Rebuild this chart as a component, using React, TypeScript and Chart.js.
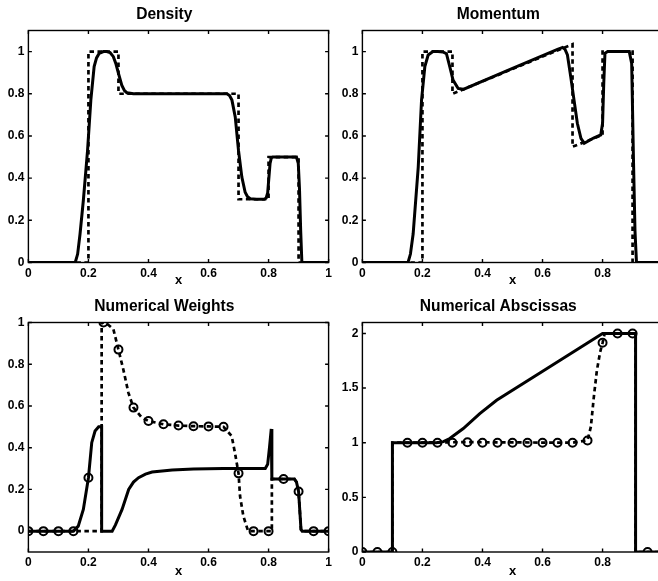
import React, { useEffect, useRef } from "react";
import { Chart, registerables } from "chart.js";

Chart.register(...registerables);

// ---------- Tick labels ----------
const xTicks = [0, 0.2, 0.4, 0.6, 0.8, 1];
const unitYTicks = [0, 0.2, 0.4, 0.6, 0.8, 1];
const abscYTicks = [0, 0.5, 1, 1.5, 2];

// ---------- Density ----------
const densityNumX = [0, 0.156, 0.164, 0.172, 0.183, 0.197, 0.208, 0.219, 0.227, 0.236, 0.25, 0.261, 0.272, 0.283, 0.292, 0.3, 0.311, 0.32, 0.328, 0.35, 0.5, 0.661, 0.67, 0.678, 0.689, 0.7, 0.711, 0.722, 0.73, 0.739, 0.76, 0.785, 0.792, 0.797, 0.801, 0.805, 0.809, 0.814, 0.85, 0.893, 0.899, 0.903, 0.907, 0.911, 1];
const densityNumY = [0, 0, 0.04, 0.135, 0.294, 0.53, 0.77, 0.929, 0.97, 0.992, 1.0, 1.0, 0.995, 0.976, 0.94, 0.897, 0.841, 0.815, 0.805, 0.8, 0.8, 0.8, 0.792, 0.77, 0.69, 0.53, 0.405, 0.333, 0.312, 0.302, 0.3, 0.3, 0.306, 0.33, 0.4, 0.47, 0.495, 0.5, 0.5, 0.5, 0.47, 0.35, 0.15, 0, 0];
const densityExactX = [0, 0.2, 0.2, 0.3, 0.3, 0.7, 0.7, 0.8, 0.8, 0.9, 0.9, 1];
const densityExactY = [0, 0, 1, 1, 0.8, 0.8, 0.3, 0.3, 0.5, 0.5, 0, 0];

// ---------- Momentum ----------
const momentumNumX = [0, 0.152, 0.16, 0.169, 0.186, 0.197, 0.208, 0.219, 0.235, 0.252, 0.268, 0.28, 0.291, 0.302, 0.319, 0.336, 0.5, 0.65, 0.667, 0.675, 0.683, 0.694, 0.705, 0.716, 0.728, 0.739, 0.77, 0.794, 0.8, 0.804, 0.808, 0.817, 0.85, 0.889, 0.897, 0.903, 0.908, 0.913, 1];
const momentumNumY = [0, 0, 0.04, 0.135, 0.452, 0.77, 0.929, 0.984, 1.0, 1.0, 0.998, 0.99, 0.929, 0.865, 0.825, 0.821, 0.92, 1.01, 1.02, 1.01, 0.984, 0.88, 0.77, 0.66, 0.589, 0.565, 0.59, 0.605, 0.66, 0.85, 0.992, 1.0, 1.0, 1.0, 0.944, 0.486, 0.15, 0, 0];
const momentumExactX = [0, 0.2, 0.2, 0.3, 0.3, 0.7, 0.7, 0.8, 0.8, 0.9, 0.9, 1];
const momentumExactY = [0, 0, 1, 1, 0.8, 1.035, 0.549, 0.605, 1, 1, 0, 0];

// ---------- Numerical weights ----------
const weightSolidX = [0, 0.15, 0.166, 0.183, 0.2, 0.211, 0.222, 0.234, 0.244, 0.244, 0.279, 0.29, 0.312, 0.334, 0.35, 0.367, 0.39, 0.412, 0.479, 0.55, 0.65, 0.789, 0.797, 0.803, 0.809, 0.811, 0.886, 0.893, 0.9, 0.904, 0.908, 0.912, 1];
const weightSolidY = [0, 0, 0.024, 0.104, 0.256, 0.424, 0.48, 0.5, 0.5, 0, 0, 0.03, 0.104, 0.2, 0.235, 0.256, 0.273, 0.283, 0.293, 0.298, 0.3, 0.3, 0.32, 0.4, 0.49, 0.25, 0.25, 0.235, 0.19, 0.1, 0.008, 0, 0];
const weightDashX = [0, 0.244, 0.244, 0.25, 0.265, 0.283, 0.3, 0.316, 0.333, 0.35, 0.378, 0.4, 0.45, 0.5, 0.55, 0.6, 0.65, 0.677, 0.688, 0.7, 0.705, 0.716, 0.732, 0.811, 0.811, 0.886, 0.893, 0.9, 0.904, 0.908, 0.912, 1];
const weightDashY = [0, 0, 1, 1, 0.99, 0.968, 0.87, 0.776, 0.664, 0.592, 0.544, 0.528, 0.512, 0.506, 0.503, 0.502, 0.5, 0.456, 0.376, 0.277, 0.168, 0.072, 0, 0, 0.25, 0.25, 0.235, 0.19, 0.1, 0.008, 0, 0];

// ---------- Numerical abscissas ----------
const abscSolidX = [0, 0.1, 0.1, 0.246, 0.27, 0.291, 0.336, 0.391, 0.447, 0.615, 0.8, 0.91, 0.91, 1];
const abscSolidY = [0, 0, 1, 1, 1.01, 1.038, 1.13, 1.267, 1.389, 1.68, 2, 2, 0, 0];
const abscDashX = [0, 0.1, 0.1, 0.35, 0.7, 0.75, 0.761, 0.771, 0.781, 0.792, 0.8, 0.807, 0.91, 0.91, 1];
const abscDashY = [0, 0, 1, 1.005, 1, 1.023, 1.145, 1.42, 1.66, 1.83, 1.914, 2, 2, 0, 0];

// ---------- Sampled markers ----------
const sampleX = [0, 0.05, 0.1, 0.15, 0.2, 0.25, 0.3, 0.35, 0.4, 0.45, 0.5, 0.55, 0.6, 0.65, 0.7, 0.75, 0.8, 0.85, 0.9, 0.95, 1];
const weightSampleY = [0, 0, 0, 0, 0.256, 1, 0.87, 0.592, 0.528, 0.512, 0.506, 0.503, 0.502, 0.5, 0.277, 0, 0, 0.25, 0.19, 0, 0];
const abscSampleY = [0, 0, 0, 1, 1, 1, 1, 1.005, 1, 1, 1, 1, 1, 1, 1, 1.02, 1.915, 2, 2, 0, 0];

const FONT = "'Liberation Sans', Arial, Helvetica, sans-serif";

const zip = (xs: number[], ys: number[]) => xs.map((x, i) => ({ x, y: ys[i] }));

const solid = (xs: number[], ys: number[]) => ({
  data: zip(xs, ys),
  showLine: true,
  borderColor: "#000",
  borderWidth: 3,
  pointRadius: 0,
  tension: 0,
  fill: false,
});
const dashed = (xs: number[], ys: number[]) => ({
  ...solid(xs, ys),
  borderDash: [4.5, 3.5],
  borderWidth: 2.7,
});
const markers = (xs: number[], ys: number[]) => ({
  data: zip(xs, ys),
  showLine: false,
  pointRadius: 4,
  pointBorderWidth: 2,
  pointBorderColor: "#000",
  pointBackgroundColor: "rgba(0,0,0,0)",
  pointStyle: "circle",
});

const boxPlugin = {
  id: "matlabBox",
  afterDatasetsDraw(chart: any) {
    const { ctx, chartArea: a, scales } = chart;
    ctx.save();
    ctx.strokeStyle = "#000";
    ctx.lineWidth = 1.4;
    ctx.strokeRect(a.left, a.top, a.right - a.left, a.bottom - a.top);
    const L = 3.5;
    ctx.beginPath();
    scales.x.ticks.forEach((t: any) => {
      const p = scales.x.getPixelForValue(t.value);
      ctx.moveTo(p, a.bottom);
      ctx.lineTo(p, a.bottom - L);
      ctx.moveTo(p, a.top);
      ctx.lineTo(p, a.top + L);
    });
    scales.y.ticks.forEach((t: any) => {
      const p = scales.y.getPixelForValue(t.value);
      ctx.moveTo(a.left, p);
      ctx.lineTo(a.left + L, p);
      ctx.moveTo(a.right, p);
      ctx.lineTo(a.right - L, p);
    });
    ctx.stroke();
    ctx.restore();
  },
};

type PanelProps = {
  left: number;
  top: number;
  height: number;
  xAxisH: number;
  title: string;
  yMin: number;
  yMax: number;
  yTicks: number[];
  datasets: any[];
};

function Panel({ left, top, height, xAxisH, title, yMin, yMax, yTicks, datasets }: PanelProps) {
  const ref = useRef<HTMLCanvasElement>(null);
  const width = 357;
  const yAxisW = 28.4;
  useEffect(() => {
    const tickFont = { family: FONT, size: 12, weight: "bold" as const };
    const chart = new Chart(ref.current as HTMLCanvasElement, {
      type: "scatter",
      data: { datasets },
      options: {
        responsive: false,
        animation: false,
        devicePixelRatio: 1,
        layout: { padding: { left: 0, right: yAxisW, top: 0, bottom: 0 } },
        plugins: {
          legend: { display: false },
          tooltip: { enabled: false },
          title: {
            display: true,
            text: title,
            color: "#000",
            font: { family: FONT, size: 15.6, weight: "bold", lineHeight: 1 },
            padding: { top: 6.5, bottom: 8.4 },
          },
        },
        scales: {
          x: {
            type: "linear",
            min: 0,
            max: 1,
            afterBuildTicks: (s: any) => {
              s.ticks = xTicks.map((v) => ({ value: v }));
            },
            afterFit: (s: any) => {
              s.height = xAxisH;
            },
            grid: { display: false, drawTicks: false },
            border: { display: false },
            ticks: {
              color: "#000",
              font: tickFont,
              padding: 3.5,
              maxRotation: 0,
              autoSkip: false,
              callback: (v: any) => String(v),
            },
            title: {
              display: true,
              text: "x",
              color: "#000",
              font: { family: FONT, size: 13, weight: "bold", lineHeight: 1 },
              padding: { top: 0, bottom: 3 },
            },
          },
          y: {
            type: "linear",
            min: yMin,
            max: yMax,
            afterBuildTicks: (s: any) => {
              s.ticks = yTicks.map((v) => ({ value: v }));
            },
            afterFit: (s: any) => {
              s.width = yAxisW;
            },
            grid: { display: false, drawTicks: false },
            border: { display: false },
            ticks: {
              color: "#000",
              font: tickFont,
              padding: 4,
              autoSkip: false,
              callback: (v: any) => String(v),
            },
          },
        },
      },
      plugins: [boxPlugin],
    } as any);
    return () => chart.destroy();
  }, []);
  return (
    <canvas
      ref={ref}
      width={width}
      height={height}
      style={{ position: "absolute", left, top, width, height }}
    />
  );
}

export default function App() {
  return (
    <div
      style={{
        position: "fixed",
        left: 0,
        top: 0,
        width: 658,
        height: 581,
        overflow: "hidden",
        background: "#fff",
      }}
    >
      <Panel
        left={0}
        top={0}
        height={290}
        xAxisH={27.5}
        title="Density"
        yMin={0}
        yMax={1.1}
        yTicks={unitYTicks}
        datasets={[solid(densityNumX, densityNumY), dashed(densityExactX, densityExactY)]}
      />
      <Panel
        left={334}
        top={0}
        height={290}
        xAxisH={27.5}
        title="Momentum"
        yMin={0}
        yMax={1.1}
        yTicks={unitYTicks}
        datasets={[solid(momentumNumX, momentumNumY), dashed(momentumExactX, momentumExactY)]}
      />
      <Panel
        left={0}
        top={292}
        height={289}
        xAxisH={29}
        title="Numerical Weights"
        yMin={-0.1}
        yMax={1}
        yTicks={unitYTicks}
        datasets={[
          markers(sampleX, weightSampleY),
          solid(weightSolidX, weightSolidY),
          dashed(weightDashX, weightDashY),
        ]}
      />
      <Panel
        left={334}
        top={292}
        height={289}
        xAxisH={29}
        title="Numerical Abscissas"
        yMin={0}
        yMax={2.1}
        yTicks={abscYTicks}
        datasets={[
          markers(sampleX, abscSampleY),
          solid(abscSolidX, abscSolidY),
          dashed(abscDashX, abscDashY),
        ]}
      />
    </div>
  );
}
